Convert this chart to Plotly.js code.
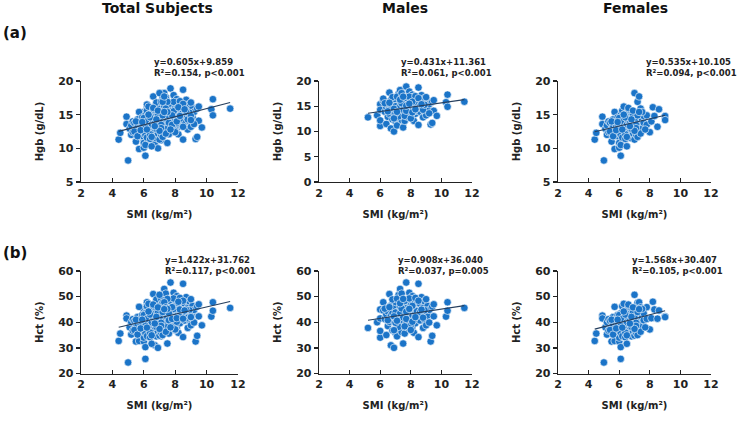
<!DOCTYPE html>
<html><head><meta charset="utf-8">
<script src="https://cdn.plot.ly/plotly-3.0.1.min.js"></script>
<style>html,body{margin:0;padding:0;background:#fff;}#chart{width:738px;height:425px;}</style>
</head><body><div id="chart"></div>
<script>
// ---- data ----
const maleSMI = [5.2,5.8,6.0,6.0,6.0,6.0,6.2,6.2,6.3,6.4,6.4,6.5,6.5,6.6,6.6,6.7,6.7,6.7,6.8,6.8,6.9,6.9,6.9,7.0,7.0,7.0,7.1,7.1,7.1,7.2,7.2,7.2,7.3,7.3,7.3,7.4,7.4,7.4,7.5,7.5,7.5,7.6,7.6,7.6,7.7,7.7,7.7,7.8,7.8,7.8,7.9,7.9,7.9,8.0,8.0,8.0,8.1,8.1,8.1,8.2,8.2,8.2,8.3,8.3,8.3,8.4,8.4,8.5,8.5,8.5,8.6,8.6,8.7,8.7,8.8,8.8,8.9,8.9,9.0,9.0,9.1,9.1,9.2,9.3,9.4,9.4,9.5,9.5,9.7,10.3,10.4,10.4,11.5,7.0,7.3,7.5,7.6,7.8,8.0,8.2,8.4,8.6,8.8,6.8,7.1,7.4,7.9,8.3,6.5,6.3,7.2,7.6,8.0,8.9,9.2,9.0,7.7,7.4,8.1,6.9,6.6,7.0,7.3,7.7,8.1,8.5,8.7,6.9,7.5,8.3,7.1,7.9];
const maleHgb = [12.8,13.2,11.1,12.2,15.4,14.3,16.0,16.5,13.9,11.5,14.8,15.3,12.9,17.7,13.5,10.6,14.6,16.2,12.4,15.0,10.0,13.8,15.8,14.2,16.4,12.0,11.2,15.1,13.3,17.5,14.7,12.7,18.2,15.9,13.6,14.4,16.8,12.3,10.8,15.4,13.9,16.1,14.9,12.1,18.9,15.6,13.4,14.6,16.6,12.9,17.9,15.2,13.7,14.1,16.0,15.5,17.3,14.5,13.0,12.1,15.8,16.9,14.8,13.5,15.9,16.4,14.2,18.7,11.3,15.3,13.9,16.2,17.2,14.7,12.8,15.7,16.6,14.0,15.1,13.2,16.0,14.6,15.4,11.4,11.7,15.9,14.1,16.2,13.1,15.8,17.3,14.9,15.9,15.0,14.9,14.3,16.6,15.3,13.2,14.0,15.2,15.0,14.3,16.8,16.9,17.6,16.9,17.0,14.0,15.6,13.0,13.1,12.6,15.3,13.6,16.8,14.1,15.6,15.9,14.5,15.7,13.6,16.3,15.1,13.8,16.6,15.4,12.6,16.9,14.4,13.9,15.5];
const maleHct = [37.8,40.0,34.0,36.6,45.0,41.5,44.6,47.8,41.3,35.0,43.0,44.2,38.5,51.0,40.1,31.0,42.6,46.5,36.8,43.6,30.0,40.4,45.8,41.7,47.9,35.8,34.5,44.0,39.2,50.6,42.9,37.5,53.0,46.2,40.3,42.1,48.8,36.2,31.7,44.9,40.8,46.9,43.5,35.6,55.5,45.5,39.5,42.8,48.3,37.9,51.5,44.3,40.0,41.2,46.6,45.1,50.2,42.4,38.1,35.9,46.0,49.0,43.2,39.6,46.3,47.6,41.4,55.0,34.2,44.6,40.7,47.2,49.8,42.9,37.8,45.7,48.2,41.0,44.0,38.8,46.4,42.6,44.8,32.5,34.7,46.1,42.3,47.0,38.8,42.2,47.8,44.5,45.6,43.8,43.4,41.9,48.3,44.7,38.7,40.9,44.4,43.9,41.8,48.9,49.2,51.2,49.3,49.5,40.8,45.3,38.2,38.4,37.0,44.7,39.9,49.0,41.3,45.4,46.4,42.3,45.9,39.8,47.4,44.1,40.2,48.4,44.9,36.9,49.1,42.0,40.6,45.2];

const femaleSMI = [4.4,4.5,4.9,4.9,5.0,5.1,5.2,5.2,5.3,5.3,5.4,5.5,5.5,5.6,5.6,5.7,5.7,5.7,5.8,5.8,5.9,5.9,6.0,6.0,6.0,6.0,6.1,6.1,6.1,6.1,6.2,6.2,6.2,6.3,6.3,6.3,6.4,6.4,6.4,6.5,6.5,6.5,6.6,6.6,6.6,6.7,6.7,6.8,6.8,6.8,6.9,6.9,7.0,7.0,7.0,7.0,7.1,7.1,7.2,7.2,7.2,7.3,7.3,7.3,7.4,7.4,7.5,7.5,7.6,7.6,7.8,7.8,8.0,8.1,8.2,8.3,8.5,8.6,9.0,9.0,5.4,5.6,5.9,6.0,6.2,6.3,6.4,6.5,6.6,6.7,6.8,6.9,7.0,7.1,7.2,7.4,7.5,7.7,6.1,5.8,6.6,6.9,7.3,6.4,5.5,6.2,6.5,6.8,7.1,5.9,6.3,7.0,6.7];
const femaleHgb = [11.3,12.3,14.7,13.6,8.2,12.9,12.0,13.4,14.0,12.4,13.8,11.0,12.9,14.3,13.1,9.9,15.4,12.2,14.0,13.3,11.8,14.6,10.1,10.8,13.7,12.5,8.9,10.5,14.9,12.0,15.6,13.2,11.6,16.2,14.2,12.7,13.6,15.1,11.4,10.3,14.5,12.3,15.7,13.0,11.9,14.8,12.6,15.5,13.4,11.5,14.1,12.2,18.2,11.3,15.3,13.1,14.4,12.0,16.9,13.7,11.7,17.7,14.9,12.6,15.9,13.3,14.3,12.9,13.8,14.8,14.9,13.5,12.4,14.0,16.1,14.8,13.2,15.8,14.8,14.2,12.5,11.8,13.5,14.5,14.0,13.0,12.1,13.5,14.1,13.7,12.9,15.0,14.2,13.5,14.9,12.2,15.4,12.8,13.1,12.7,16.0,15.6,15.4,14.6,14.0,12.8,11.7,14.3,13.0,13.9,15.0,12.6,13.3];
const femaleHct = [32.7,35.6,42.6,41.5,24.3,38.0,35.2,40.0,41.2,36.7,40.5,32.5,38.3,42.0,38.8,32.7,46.0,36.0,41.4,39.2,35.0,42.8,32.5,34.0,40.3,37.0,25.7,30.3,43.5,35.8,46.2,39.0,34.6,47.2,41.8,37.6,40.1,44.3,34.1,31.6,42.6,36.5,46.0,38.5,35.3,43.6,37.3,45.5,39.6,34.5,41.6,36.3,50.7,34.8,44.9,38.9,42.4,35.9,47.6,40.4,35.0,47.8,43.8,37.5,45.8,39.3,42.0,38.1,40.8,43.5,45.9,41.3,37.2,41.6,48.0,45.0,41.4,44.6,42.2,42.0,37.0,35.2,39.9,42.8,41.3,38.4,36.0,39.9,41.7,40.5,38.2,44.0,41.9,39.8,44.0,36.3,45.2,38.0,38.7,37.6,46.9,45.8,45.1,43.0,41.0,37.9,34.9,42.1,38.6,41.0,44.2,37.4,39.5];

const groupNames = ["Total Subjects", "Males", "Females"];
const rowLabels = ["(a)", "(b)"];
const hgbSlope = [0.605, 0.431, 0.535];
const hgbIntercept = [9.859, 11.361, 10.105];
const hgbStats = ["R²=0.154, p<0.001", "R²=0.061, p<0.001", "R²=0.094, p<0.001"];
const hctSlope = [1.422, 0.908, 1.568];
const hctIntercept = [31.762, 36.040, 30.407];
const hctStats = ["R²=0.117, p<0.001", "R²=0.037, p=0.005", "R²=0.105, p<0.001"];
const hgbRanges = [[5, 20], [0, 20], [5, 20]];
const hctRange = [20, 60];
const smiRange = [2, 12];

// ---- build ----
const W = 738, H = 425;
const px = x => x / W, py = y => 1 - y / H;
const groups = [
  {smi: maleSMI.concat(femaleSMI), hgb: maleHgb.concat(femaleHgb), hct: maleHct.concat(femaleHct)},
  {smi: maleSMI, hgb: maleHgb, hct: maleHct},
  {smi: femaleSMI, hgb: femaleHgb, hct: femaleHct}
];
const colX = [[81, 238], [319, 472], [558, 711]];
const rowY = [[81, 182], [271, 373.5]];
const FONT = "DejaVu Sans, Verdana, sans-serif";
const dotColor = "#1b74c8";
const lineColor = "#263f5e";

const data = [], annotations = [];
const layout = {
  width: W, height: H, margin: {l: 0, r: 0, t: 0, b: 0},
  paper_bgcolor: "#fff", plot_bgcolor: "#fff", showlegend: false,
  font: {family: FONT, color: "#222"}
};

let k = 0;
for (let r = 0; r < 2; r++) {
  for (let c = 0; c < 3; c++) {
    k++;
    const xa = "x" + (k === 1 ? "" : k), ya = "y" + (k === 1 ? "" : k);
    const xk = "xaxis" + (k === 1 ? "" : k), yk = "yaxis" + (k === 1 ? "" : k);
    const g = groups[c];
    const yv = r === 0 ? g.hgb : g.hct;
    const slope = r === 0 ? hgbSlope[c] : hctSlope[c];
    const icpt = r === 0 ? hgbIntercept[c] : hctIntercept[c];
    data.push({type: "scatter", mode: "markers", x: g.smi, y: yv, xaxis: xa, yaxis: ya,
      marker: {color: dotColor, size: 7.5, line: {color: "#fff", width: 0.6}}, hoverinfo: "skip"});
    const xmin = Math.min(...g.smi), xmax = Math.max(...g.smi);
    data.push({type: "scatter", mode: "lines", x: [xmin, xmax], y: [slope * xmin + icpt, slope * xmax + icpt],
      xaxis: xa, yaxis: ya, line: {color: lineColor, width: 1.1}, hoverinfo: "skip"});
    layout[xk] = {domain: [px(colX[c][0]), px(colX[c][1])], anchor: ya, range: smiRange, dtick: 2,
      showgrid: false, zeroline: false, showline: true, linecolor: "#222", linewidth: 1.3,
      ticks: "inside", ticklen: 4, tickcolor: "#222", tickwidth: 1.3,
      tickfont: {family: FONT, size: 11, weight: "bold", color: "#222"},
      title: {text: "SMI (kg/m²)", font: {family: FONT, size: 10, weight: "bold", color: "#222"}, standoff: 12}};
    layout[yk] = {domain: [py(rowY[r][1]), py(rowY[r][0])], anchor: xa,
      range: r === 0 ? hgbRanges[c] : hctRange, dtick: r === 0 ? 5 : 10,
      showgrid: false, zeroline: false, showline: true, linecolor: "#222", linewidth: 1.3,
      ticks: "outside", ticklen: 4, tickcolor: "#222", tickwidth: 1.3,
      tickfont: {family: FONT, size: 11, weight: "bold", color: "#222"},
      title: {text: r === 0 ? "Hgb (g/dL)" : "Hct (%)", font: {family: FONT, size: 10, weight: "bold", color: "#222"}, standoff: 12}};
    const sign = icpt >= 0 ? "+" : "";
    const eq = "y=" + slope.toFixed(3) + "x" + sign + icpt.toFixed(3);
    const stats = r === 0 ? hgbStats[c] : hctStats[c];
    const annX = r === 0 ? [152, 399, 644][c] : [163, 396, 630][c];
    const annY = r === 0 ? 67 : 265;
    annotations.push({xref: "paper", yref: "paper", x: px(annX), y: py(annY), xanchor: "left", yanchor: "middle",
      text: eq + "<br>" + stats, showarrow: false, align: "left",
      font: {family: FONT, size: 8.5, weight: "bold", color: "#222"}});
  }
}
groupNames.forEach((name, c) => {
  annotations.push({xref: "paper", yref: "paper", x: px([157, 405, 635][c]), y: py(8), xanchor: "center", yanchor: "middle",
    text: name, showarrow: false, font: {family: FONT, size: 14, weight: "bold", color: "#111"}});
});
rowLabels.forEach((lab, r) => {
  annotations.push({xref: "paper", yref: "paper", x: px(1), y: py([33, 253][r]), xanchor: "left", yanchor: "middle",
    text: lab, showarrow: false, font: {family: FONT, size: 15, weight: "bold", color: "#111"}});
});
layout.annotations = annotations;
Plotly.newPlot("chart", data, layout, {staticPlot: true, displayModeBar: false});
</script></body></html>
